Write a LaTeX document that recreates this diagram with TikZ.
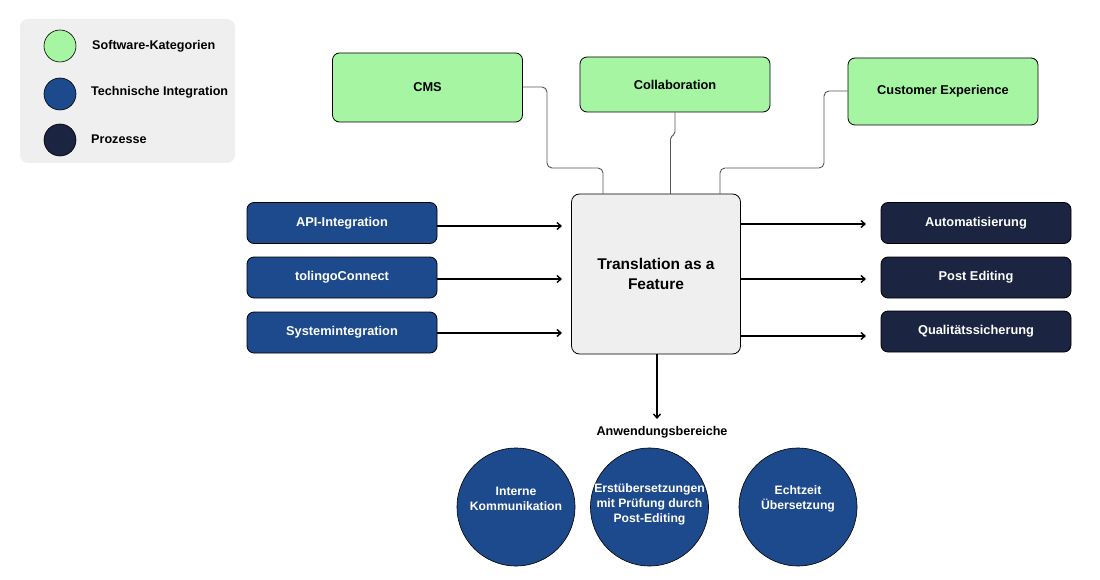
\documentclass[tikz,border=0pt]{standalone}
\usepackage{fontspec}
\setmainfont{Liberation Sans}
\usetikzlibrary{arrows.meta}
\definecolor{lgray}{HTML}{EFEFEF}
\definecolor{sgreen}{HTML}{A6F5A3}
\definecolor{tblue}{HTML}{1D4A8C}
\definecolor{pnavy}{HTML}{1B2440}
\definecolor{cgray}{HTML}{555555}
\tikzset{
  box/.style={draw=black, line width=0.8pt, rounded corners=7pt, minimum width=190pt, minimum height=41pt, font=\bfseries\fontsize{12.8}{14}\selectfont, inner sep=0pt},
  greenbox/.style={box, fill=sgreen, text=black, minimum height=69pt},
  bluebox/.style={box, fill=tblue, text=white},
  navybox/.style={box, fill=pnavy, text=white},
  circ/.style={circle, draw=black, line width=0.6pt, minimum size=118pt, inner sep=0pt, fill=tblue},
  circtext/.style={text=white, align=center, inner sep=0pt, font=\bfseries\fontsize{12.2}{15}\selectfont},
  legdot/.style={circle, draw=black, line width=0.6pt, minimum size=32pt, inner sep=0pt},
  legtext/.style={anchor=west, font=\bfseries\fontsize{12.6}{14}\selectfont, inner sep=0pt},
  conn/.style={draw=cgray, line width=0.9pt, rounded corners=5pt},
  arr/.style={draw=black, line width=1.4pt, -{Straight Barb[length=4pt,width=7pt]}},
}
\begin{document}
\begin{tikzpicture}[x=1pt,y=-1pt]
\useasboundingbox (0,0) rectangle (1100,580);
% legend
\node[draw=none, fill=lgray, rounded corners=8pt, minimum width=215pt, minimum height=144pt, inner sep=0pt] (legend) at (127.5,91) {};
\node[legdot, fill=sgreen] (l1) at (60,46) {};
\node[legdot, fill=tblue] (l2) at (60,94) {};
\node[legdot, fill=pnavy] (l3) at (60,140) {};
\node[legtext] (lt1) at (92,46) {Software-Kategorien};
\node[legtext] (lt2) at (91,92) {Technische Integration};
\node[legtext] (lt3) at (91,139) {Prozesse};
% top green boxes
\node[greenbox] (cms) at (427.5,87.5) {CMS};
\node[greenbox, minimum height=55pt] (collab) at (675,84.5) {Collaboration};
\node[greenbox, minimum height=67pt] (cx) at (943,91.5) {Customer Experience};
% center
\node[draw=black, line width=0.8pt, fill=lgray, rounded corners=8pt, minimum width=169pt, minimum height=160pt, inner sep=0pt, align=center, font=\bfseries\fontsize{15.5}{20}\selectfont] (center) at (656,274) {Translation as a\\Feature};
% connectors from top
\coordinate (c1) at (603,194);
\coordinate (c2) at (670.5,194);
\coordinate (c3) at (720,194);
\draw[conn] (cms.east |- 0,87) -- (547,87) -- (547,168) -- (603,168) -- (c1);
\draw[conn, rounded corners=2pt] (collab.south -| 675,0) -- (675,134) -- (670.5,137) -- (c2);
\draw[conn] (cx.west |- 0,91) -- (824,91) -- (824,168) -- (720,168) -- (c3);
% left blue boxes
\node[bluebox] (api) at (342,223) {API-Integration};
\node[bluebox] (tc) at (342,277.5) {tolingoConnect};
\node[bluebox] (si) at (342,332.5) {Systemintegration};
\coordinate (a1) at (562,226);
\coordinate (a2) at (562,279);
\coordinate (a3) at (562,333);
\draw[arr] (api.east |- a1) -- (a1);
\draw[arr] (tc.east |- a2) -- (a2);
\draw[arr] (si.east |- a3) -- (a3);
% right navy boxes
\node[navybox] (auto) at (976,223) {Automatisierung};
\node[navybox] (pe) at (976,277.5) {Post Editing};
\node[navybox] (qs) at (976,331.5) {Qualitätssicherung};
\coordinate (r1) at (866,224);
\coordinate (r2) at (866,279);
\coordinate (r3) at (866,336);
\draw[arr] (center.east |- r1) -- (r1);
\draw[arr] (center.east |- r2) -- (r2);
\draw[arr] (center.east |- r3) -- (r3);
% down arrow
\node[font=\bfseries\fontsize{12.6}{14}\selectfont, inner sep=0pt] (anw) at (662,432) {Anwendungsbereiche};
\coordinate (d1) at (657,419);
\draw[arr] (center.south -| d1) -- (d1);
% circles
\node[circ] (k1) at (516,507) {};
\node[circ] (k2) at (649.5,507) {};
\node[circ] (k3) at (798,507) {};
\node[circtext] (t1) at ([yshift=8.5pt]k1.center) {Interne\\Kommunikation};
\node[circtext] (t2) at ([yshift=3pt]k2.center) {Erstübersetzungen\\mit Prüfung durch\\Post-Editing};
\node[circtext] (t3) at ([yshift=8.5pt]k3.center) {Echtzeit\\Übersetzung};
\end{tikzpicture}
\end{document}
